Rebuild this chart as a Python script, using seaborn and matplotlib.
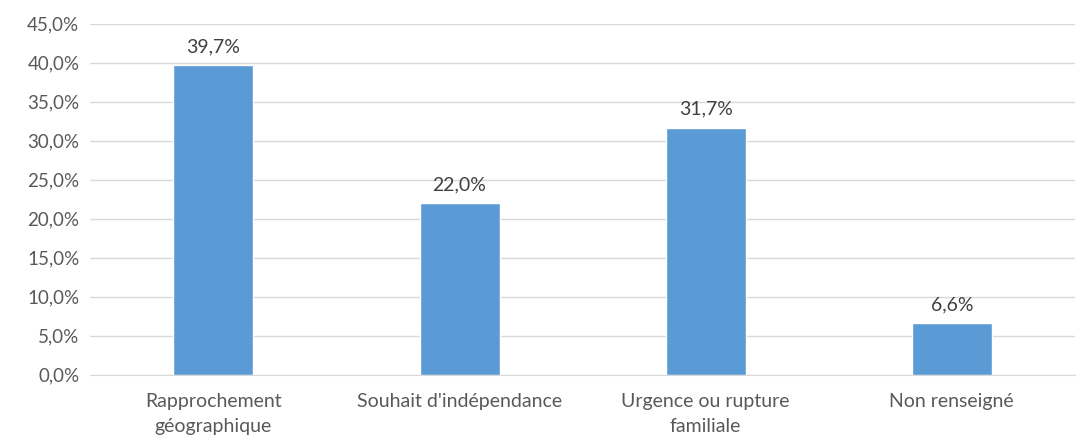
import matplotlib
matplotlib.use("Agg")
import matplotlib.pyplot as plt
import seaborn as sns
import pandas as pd
from matplotlib.ticker import FuncFormatter

categories = ["Rapprochement\ngéographique", "Souhait d'indépendance",
              "Urgence ou rupture\nfamiliale", "Non renseigné"]
values = [39.7, 22.0, 31.7, 6.6]
labels = ["39,7%", "22,0%", "31,7%", "6,6%"]

data = pd.DataFrame({"cat": categories, "val": values})

sns.set_style("white")
plt.rcParams['font.family'] = ['Lato', 'DejaVu Sans']

fig = plt.figure(figsize=(10.89, 4.41), dpi=100)
ax = fig.add_axes([0.083, 0.150, 0.904, 0.796])

sns.barplot(x="cat", y="val", data=data, color="#5B9BD5", width=0.325,
            saturation=1, ax=ax, zorder=3)

ax.set_ylim(0, 45)
ax.set_yticks([i * 5 for i in range(10)])
ax.yaxis.set_major_formatter(FuncFormatter(lambda v, p: f"{v:.1f}%".replace(".", ",")))
ax.set_xlim(-0.5, 3.5)
ax.grid(axis="y", color="#D9D9D9", linewidth=1, zorder=0)
for s in ["left", "right", "top"]:
    ax.spines[s].set_visible(False)
ax.spines["bottom"].set_color("#D9D9D9")
ax.tick_params(axis="y", length=0, labelsize=13.5, colors="#595959", pad=8)
ax.tick_params(axis="x", length=0, labelsize=14, colors="#595959", pad=13)
for lbl in ax.get_xticklabels():
    lbl.set_linespacing(1.6)
ax.set_xlabel("")
ax.set_ylabel("")

for i, (v, t) in enumerate(zip(values, labels)):
    ax.text(i, v + 1.3, t, ha="center", va="bottom", fontsize=14, color="#404040")

fig.savefig("out.png", dpi=100)
